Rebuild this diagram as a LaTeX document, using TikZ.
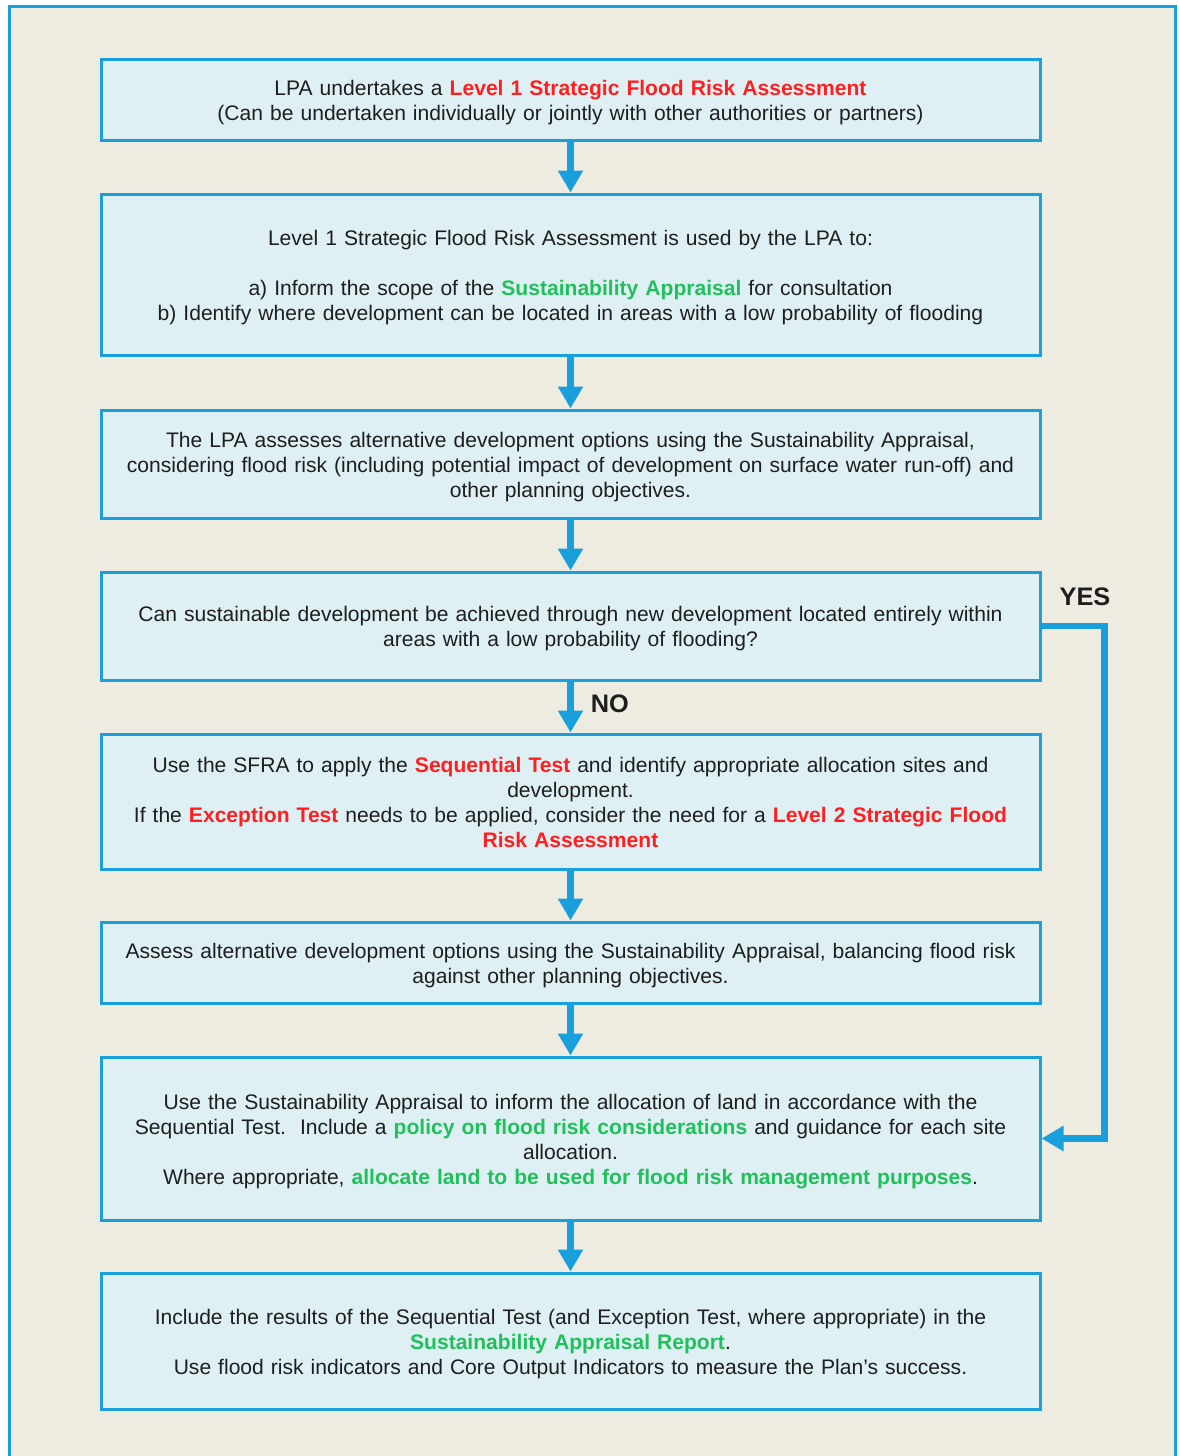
\documentclass[tikz,border=0pt]{standalone}
\usepackage{fontspec}
\setmainfont{Liberation Sans}
\usetikzlibrary{arrows.meta}
\definecolor{frameblue}{HTML}{1A9FDD}
\definecolor{boxblue}{HTML}{DFF0F5}
\definecolor{pagebeige}{HTML}{EEEBE1}
\definecolor{keyred}{HTML}{FF1F1F}
\definecolor{keygreen}{HTML}{20C05A}
\definecolor{bodytext}{HTML}{1E1E1E}
\newcommand{\hired}[1]{\textcolor{keyred}{\textbf{#1}}}
\newcommand{\higreen}[1]{\textcolor{keygreen}{\textbf{#1}}}
\begin{document}
\begin{tikzpicture}[x=0.75pt, y=-0.75pt,
  main box/.style={rectangle, draw=frameblue, line width=2.25pt, fill=boxblue, minimum width=704.25pt, text width=700pt, inner sep=0pt, align=center, text=bodytext, font=\fontsize{15.8}{18.75}\selectfont,
    execute at begin node={\rule{0pt}{16.1pt}}, execute at end node={\rule[-4pt]{0pt}{4pt}}},
  flow arrow/.style={-{Triangle[width=18pt,length=16.5pt]}, color=frameblue, line width=5pt},
  answer/.style={font=\fontsize{19}{22}\selectfont\bfseries, text=bodytext}]
        \useasboundingbox (0,0) rectangle (1178,1456);
        \fill[pagebeige] (9,6) rectangle (1175,1456);
        \draw[frameblue, line width=2.25pt] (9,1456) -- (9,6) -- (1175,6) -- (1175,1456);

          \node[main box, minimum height=60.75pt] (lpa) at (570.5,99.5) {LPA undertakes a \hired{Level 1 Strategic Flood Risk Assessment}\\(Can be undertaken individually or jointly with other authorities or partners)};
          \node[main box, minimum height=120.75pt] (use) at (570.5,274.5) {Level 1 Strategic Flood Risk Assessment is used by the LPA to:\\[18.75pt]a) Inform the scope of the \higreen{Sustainability Appraisal} for consultation\\b) Identify where development can be located in areas with a low probability of flooding};
          \node[main box, minimum height=81pt] (assess) at (570.5,464) {The LPA assesses alternative development options using the Sustainability Appraisal,\\considering flood risk (including potential impact of development on surface water run-off) and\\other planning objectives.};
          \node[main box, minimum height=81pt] (within) at (570.5,626) {Can sustainable development be achieved through new development located entirely within\\areas with a low probability of flooding?};
          \node[main box, minimum height=101.25pt] (seq) at (570.5,801.5) {Use the SFRA to apply the \hired{Sequential Test} and identify appropriate allocation sites and\\development.\\If the \hired{Exception Test} needs to be applied, consider the need for a \hired{Level 2 Strategic Flood}\\\hired{Risk Assessment}};
          \node[main box, minimum height=60.75pt] (balance) at (570.5,962.5) {Assess alternative development options using the Sustainability Appraisal, balancing flood risk\\against other planning objectives.};
          \node[main box, minimum height=122.25pt] (alloc) at (570.5,1138.5) {Use the Sustainability Appraisal to inform the allocation of land in accordance with the\\Sequential Test.\ \ Include a \higreen{policy on flood risk considerations} and guidance for each site\\allocation.\\Where appropriate, \higreen{allocate land to be used for flood risk management purposes}.};
          \node[main box, minimum height=102pt] (report) at (570.5,1341) {Include the results of the Sequential Test (and Exception Test, where appropriate) in the\\\higreen{Sustainability Appraisal Report}.\\Use flood risk indicators and Core Output Indicators to measure the Plan’s success.};
          \node[answer] (yes) at (1085,597) {YES};

          \path[flow arrow]
            (lpa) edge (use)
            (use) edge (assess)
            (assess) edge (within)
            (within) edge node[answer, right, xshift=9.5pt, yshift=2.5pt] (no) {NO} (seq)
            (seq) edge (balance)
            (balance) edge (alloc)
            (alloc) edge (report);
          \draw[flow arrow] (within.east) -- ++(63,0) |- (alloc.east);
        \end{tikzpicture}
\end{document}
